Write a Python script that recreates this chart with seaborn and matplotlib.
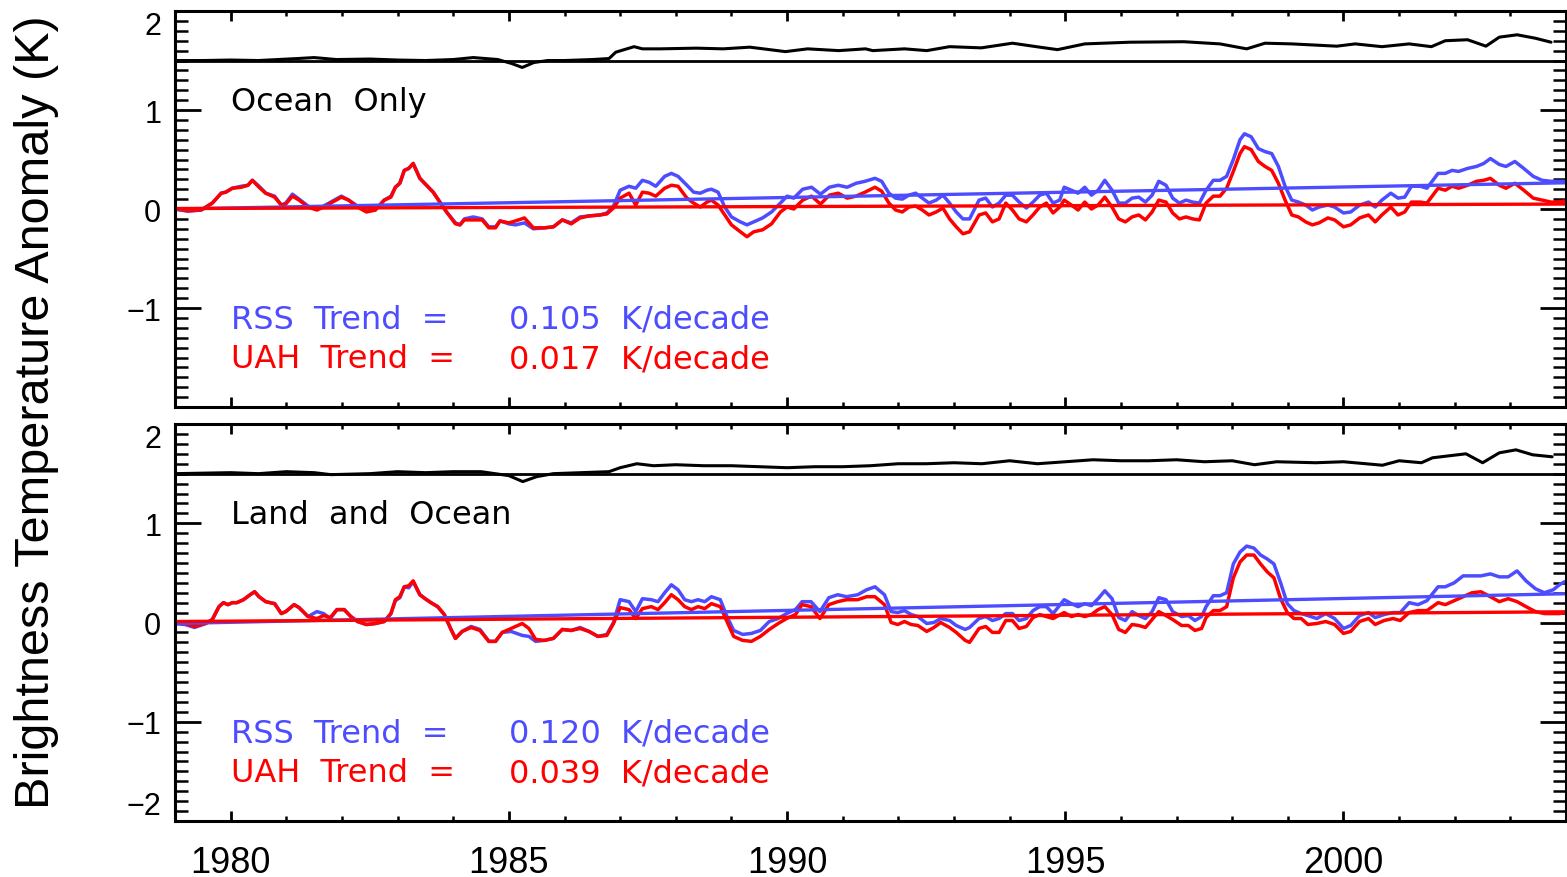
import matplotlib
matplotlib.use("Agg")
import numpy as np
import seaborn as sns
from matplotlib import pyplot as plt
from matplotlib.ticker import MultipleLocator

sns.set_style("ticks")
plt.rcParams['font.family'] = ['Liberation Sans', 'DejaVu Sans']
plt.rcParams.update({"axes.edgecolor": "black", "xtick.color": "black",
                     "ytick.color": "black", "text.color": "black",
                     "axes.labelcolor": "black"})

RSS_BLUE = "#4d4dff"
UAH_RED = "#ff0000"
DIFF_OFFSET = 1.5   # the RSS-UAH difference is drawn shifted up to this level

#%%
# ---- Ocean Only panel ----
ocean_years = [
    1979.00, 1979.23, 1979.47, 1979.67, 1979.83, 1979.91, 1980.03, 1980.19, 1980.31, 1980.39,
    1980.51, 1980.63, 1980.79, 1980.91, 1980.99, 1981.11, 1981.23, 1981.39, 1981.55, 1981.67,
    1981.83, 1981.99, 1982.12, 1982.28, 1982.44, 1982.60, 1982.76, 1982.88, 1982.96, 1983.04,
    1983.12, 1983.20, 1983.28, 1983.40, 1983.52, 1983.64, 1983.76, 1983.88, 1984.04, 1984.12,
    1984.20, 1984.36, 1984.52, 1984.64, 1984.76, 1984.84, 1985.00, 1985.12, 1985.28, 1985.44,
    1985.64, 1985.80, 1985.96, 1986.12, 1986.28, 1986.44, 1986.64, 1986.76, 1986.88, 1987.00,
    1987.16, 1987.28, 1987.40, 1987.52, 1987.64, 1987.80, 1987.92, 1988.04, 1988.20, 1988.32,
    1988.44, 1988.56, 1988.64, 1988.76, 1988.88, 1989.00, 1989.16, 1989.28, 1989.40, 1989.56,
    1989.72, 1989.88, 1990.00, 1990.12, 1990.28, 1990.44, 1990.60, 1990.76, 1990.92, 1991.08,
    1991.24, 1991.40, 1991.58, 1991.70, 1991.83, 1991.95, 1992.07, 1992.19, 1992.31, 1992.43,
    1992.55, 1992.68, 1992.80, 1992.92, 1993.04, 1993.16, 1993.28, 1993.45, 1993.57, 1993.69,
    1993.81, 1993.93, 1994.05, 1994.17, 1994.30, 1994.42, 1994.54, 1994.66, 1994.78, 1994.90,
    1994.98, 1995.11, 1995.23, 1995.35, 1995.47, 1995.59, 1995.71, 1995.84, 1995.96, 1996.08,
    1996.20, 1996.32, 1996.44, 1996.56, 1996.68, 1996.81, 1996.93, 1997.05, 1997.17, 1997.29,
    1997.41, 1997.53, 1997.66, 1997.78, 1997.90, 1998.02, 1998.14, 1998.22, 1998.34, 1998.47,
    1998.59, 1998.71, 1998.83, 1998.95, 1999.07, 1999.19, 1999.32, 1999.44, 1999.56, 1999.72,
    1999.84, 2000.00, 2000.13, 2000.29, 2000.45, 2000.57, 2000.69, 2000.85, 2000.98, 2001.10,
    2001.22, 2001.38, 2001.50, 2001.70, 2001.83, 2001.95, 2002.07, 2002.23, 2002.39, 2002.52,
    2002.64, 2002.80, 2002.92, 2003.08, 2003.24, 2003.41, 2003.57, 2003.73, 2003.85, 2003.97,
]
ocean_rss = [
    0.00, -0.02, -0.01, 0.06, 0.16, 0.17, 0.21, 0.23, 0.24, 0.29,
    0.23, 0.16, 0.13, 0.04, 0.06, 0.15, 0.10, 0.03, 0.00, 0.03,
    0.08, 0.13, 0.09, 0.03, -0.02, -0.01, 0.09, 0.13, 0.22, 0.26,
    0.39, 0.41, 0.46, 0.31, 0.24, 0.17, 0.07, -0.03, -0.14, -0.16,
    -0.10, -0.08, -0.10, -0.18, -0.18, -0.12, -0.15, -0.16, -0.14, -0.20,
    -0.19, -0.18, -0.11, -0.14, -0.08, -0.07, -0.06, -0.04, 0.03, 0.19,
    0.23, 0.21, 0.29, 0.27, 0.23, 0.33, 0.36, 0.33, 0.24, 0.17,
    0.16, 0.19, 0.20, 0.17, 0.02, -0.08, -0.13, -0.16, -0.13, -0.09,
    -0.03, 0.06, 0.13, 0.11, 0.20, 0.22, 0.15, 0.22, 0.24, 0.22,
    0.26, 0.28, 0.31, 0.28, 0.16, 0.11, 0.10, 0.14, 0.16, 0.11,
    0.06, 0.09, 0.14, 0.06, -0.03, -0.10, -0.10, 0.09, 0.11, 0.02,
    0.06, 0.14, 0.14, 0.07, 0.01, 0.07, 0.14, 0.16, 0.06, 0.09,
    0.22, 0.19, 0.16, 0.22, 0.14, 0.19, 0.29, 0.19, 0.06, 0.06,
    0.11, 0.12, 0.07, 0.14, 0.28, 0.24, 0.11, 0.06, 0.09, 0.07,
    0.06, 0.19, 0.29, 0.29, 0.33, 0.50, 0.70, 0.76, 0.73, 0.61,
    0.58, 0.56, 0.43, 0.23, 0.09, 0.07, 0.04, -0.01, 0.02, 0.04,
    0.02, -0.04, -0.03, 0.04, 0.07, 0.02, 0.09, 0.16, 0.11, 0.12,
    0.23, 0.23, 0.21, 0.36, 0.36, 0.39, 0.38, 0.41, 0.43, 0.46,
    0.51, 0.45, 0.43, 0.48, 0.41, 0.33, 0.29, 0.28, 0.28, 0.28,
]
ocean_uah = [
    0.00, -0.02, -0.01, 0.06, 0.16, 0.17, 0.21, 0.22, 0.24, 0.29,
    0.22, 0.16, 0.12, 0.04, 0.05, 0.13, 0.09, 0.02, -0.01, 0.02,
    0.07, 0.12, 0.09, 0.02, -0.03, -0.01, 0.09, 0.12, 0.22, 0.26,
    0.39, 0.41, 0.46, 0.31, 0.24, 0.17, 0.07, -0.03, -0.15, -0.16,
    -0.11, -0.11, -0.11, -0.19, -0.19, -0.12, -0.14, -0.12, -0.09, -0.19,
    -0.19, -0.18, -0.11, -0.15, -0.09, -0.07, -0.06, -0.05, 0.01, 0.11,
    0.16, 0.04, 0.17, 0.16, 0.13, 0.21, 0.24, 0.23, 0.11, 0.06,
    0.02, 0.07, 0.09, 0.04, -0.06, -0.16, -0.23, -0.28, -0.23, -0.21,
    -0.15, -0.03, 0.02, 0.00, 0.09, 0.13, 0.05, 0.14, 0.16, 0.11,
    0.13, 0.17, 0.22, 0.18, 0.06, -0.01, -0.03, 0.02, 0.03, -0.01,
    -0.06, -0.03, 0.01, -0.10, -0.18, -0.25, -0.23, -0.06, -0.04, -0.13,
    -0.10, 0.06, -0.01, -0.10, -0.13, -0.06, 0.02, 0.06, -0.04, 0.02,
    0.09, 0.04, -0.01, 0.07, 0.00, 0.04, 0.12, 0.02, -0.10, -0.13,
    -0.08, -0.06, -0.11, -0.03, 0.09, 0.07, -0.04, -0.10, -0.08, -0.10,
    -0.11, 0.06, 0.13, 0.13, 0.21, 0.38, 0.56, 0.63, 0.60, 0.48,
    0.43, 0.39, 0.26, 0.09, -0.06, -0.08, -0.13, -0.16, -0.14, -0.09,
    -0.11, -0.18, -0.16, -0.09, -0.06, -0.13, -0.06, 0.02, -0.06, -0.03,
    0.07, 0.07, 0.06, 0.21, 0.19, 0.23, 0.21, 0.24, 0.28, 0.29,
    0.31, 0.24, 0.21, 0.26, 0.19, 0.11, 0.09, 0.07, 0.07, 0.08,
]
ocean_diff_years = [
    1979.0, 1979.5, 1980.0, 1980.5, 1981.2, 1981.5, 1981.9, 1982.5, 1983.0, 1983.5,
    1984.0, 1984.36, 1984.8, 1985.05, 1985.24, 1985.45, 1985.7, 1986.0, 1986.5, 1986.8,
    1986.92, 1987.25, 1987.40, 1987.72, 1988.37, 1988.85, 1989.33, 1989.97, 1990.37, 1990.93,
    1991.41, 1991.54, 1992.11, 1992.51, 1992.92, 1993.49, 1994.05, 1994.54, 1994.86, 1995.35,
    1996.16, 1997.13, 1997.78, 1998.26, 1998.59, 1999.07, 1999.88, 2000.21, 2000.69, 2001.18,
    2001.58, 2001.83, 2002.23, 2002.56, 2002.80, 2003.12, 2003.45, 2003.73,
]
ocean_diff = [
    0.0, 0.0, 0.005, 0.0, 0.02, 0.03, 0.01, 0.015, 0.005, 0.0,
    0.01, 0.03, 0.01, -0.03, -0.07, -0.02, 0.0, 0.0, 0.01, 0.02,
    0.084, 0.14, 0.118, 0.118, 0.125, 0.118, 0.135, 0.09, 0.118, 0.10,
    0.118, 0.10, 0.118, 0.10, 0.14, 0.128, 0.175, 0.135, 0.11, 0.168,
    0.185, 0.19, 0.168, 0.118, 0.175, 0.168, 0.145, 0.168, 0.14, 0.168,
    0.14, 0.20, 0.21, 0.145, 0.236, 0.26, 0.225, 0.185,
]

#%%
# ---- Land and Ocean panel ----
land_years = [
    1979.00, 1979.18, 1979.35, 1979.55, 1979.67, 1979.79, 1979.87, 1979.95, 1980.03, 1980.11,
    1980.23, 1980.35, 1980.43, 1980.51, 1980.63, 1980.79, 1980.91, 1980.99, 1981.14, 1981.23,
    1981.39, 1981.55, 1981.67, 1981.79, 1981.91, 1982.04, 1982.16, 1982.28, 1982.44, 1982.60,
    1982.76, 1982.88, 1982.96, 1983.04, 1983.12, 1983.20, 1983.28, 1983.40, 1983.52, 1983.60,
    1983.72, 1983.84, 1983.96, 1984.04, 1984.16, 1984.32, 1984.48, 1984.64, 1984.76, 1984.88,
    1985.04, 1985.24, 1985.36, 1985.48, 1985.64, 1985.80, 1985.96, 1986.12, 1986.28, 1986.44,
    1986.60, 1986.76, 1986.88, 1987.00, 1987.16, 1987.28, 1987.40, 1987.56, 1987.68, 1987.80,
    1987.92, 1988.04, 1988.16, 1988.28, 1988.40, 1988.52, 1988.64, 1988.80, 1988.92, 1989.04,
    1989.20, 1989.36, 1989.52, 1989.68, 1989.84, 1989.99, 1990.15, 1990.27, 1990.43, 1990.59,
    1990.75, 1990.91, 1991.07, 1991.27, 1991.43, 1991.58, 1991.75, 1991.87, 1991.99, 1992.11,
    1992.23, 1992.35, 1992.51, 1992.64, 1992.76, 1992.92, 1993.04, 1993.20, 1993.28, 1993.45,
    1993.57, 1993.69, 1993.81, 1993.93, 1994.05, 1994.17, 1994.30, 1994.42, 1994.54, 1994.66,
    1994.78, 1994.98, 1995.11, 1995.23, 1995.35, 1995.47, 1995.59, 1995.71, 1995.84, 1995.96,
    1996.08, 1996.20, 1996.32, 1996.44, 1996.56, 1996.68, 1996.81, 1996.93, 1997.09, 1997.21,
    1997.33, 1997.45, 1997.53, 1997.66, 1997.78, 1997.90, 1998.02, 1998.14, 1998.26, 1998.39,
    1998.51, 1998.63, 1998.75, 1998.87, 1998.99, 1999.11, 1999.24, 1999.36, 1999.52, 1999.68,
    1999.84, 2000.00, 2000.13, 2000.29, 2000.45, 2000.57, 2000.73, 2000.89, 2001.02, 2001.18,
    2001.34, 2001.50, 2001.70, 2001.83, 2001.99, 2002.15, 2002.31, 2002.47, 2002.64, 2002.80,
    2002.96, 2003.12, 2003.28, 2003.45, 2003.61, 2003.77, 2003.88, 2003.97,
]
land_rss = [
    -0.01, -0.02, -0.05, -0.01, 0.03, 0.16, 0.20, 0.18, 0.20, 0.20,
    0.23, 0.28, 0.31, 0.26, 0.21, 0.19, 0.09, 0.11, 0.18, 0.15,
    0.06, 0.11, 0.09, 0.04, 0.13, 0.13, 0.06, 0.01, -0.02, -0.01,
    0.01, 0.09, 0.22, 0.25, 0.36, 0.35, 0.41, 0.28, 0.23, 0.20,
    0.16, 0.08, -0.07, -0.16, -0.09, -0.04, -0.07, -0.19, -0.19, -0.10,
    -0.09, -0.13, -0.14, -0.19, -0.18, -0.16, -0.07, -0.08, -0.05, -0.09,
    -0.14, -0.12, 0.00, 0.23, 0.21, 0.11, 0.24, 0.23, 0.21, 0.30,
    0.38, 0.33, 0.23, 0.21, 0.23, 0.21, 0.26, 0.23, 0.06, -0.08,
    -0.12, -0.11, -0.08, 0.01, 0.04, 0.09, 0.13, 0.21, 0.21, 0.11,
    0.25, 0.28, 0.26, 0.28, 0.33, 0.36, 0.28, 0.11, 0.10, 0.12,
    0.08, 0.06, -0.01, 0.00, 0.04, 0.02, -0.03, -0.07, -0.05, 0.04,
    0.06, 0.02, 0.04, 0.09, 0.09, 0.02, 0.04, 0.12, 0.16, 0.16,
    0.09, 0.23, 0.19, 0.16, 0.19, 0.17, 0.24, 0.32, 0.24, 0.05,
    0.02, 0.11, 0.07, 0.04, 0.11, 0.25, 0.23, 0.11, 0.06, 0.07,
    0.02, 0.06, 0.16, 0.27, 0.27, 0.30, 0.59, 0.71, 0.77, 0.75,
    0.68, 0.64, 0.59, 0.40, 0.19, 0.12, 0.09, 0.07, 0.04, 0.09,
    0.04, -0.06, -0.03, 0.07, 0.10, 0.05, 0.08, 0.10, 0.10, 0.20,
    0.18, 0.22, 0.36, 0.36, 0.40, 0.47, 0.47, 0.47, 0.49, 0.46,
    0.46, 0.52, 0.42, 0.34, 0.30, 0.33, 0.38, 0.41,
]
land_uah = [
    -0.01, -0.01, -0.04, -0.01, 0.03, 0.16, 0.20, 0.18, 0.20, 0.20,
    0.23, 0.28, 0.31, 0.26, 0.21, 0.19, 0.09, 0.11, 0.18, 0.15,
    0.06, 0.04, 0.07, 0.05, 0.13, 0.13, 0.06, 0.01, -0.02, -0.01,
    0.01, 0.09, 0.23, 0.26, 0.36, 0.37, 0.42, 0.28, 0.23, 0.20,
    0.16, 0.08, -0.07, -0.16, -0.09, -0.05, -0.08, -0.19, -0.19, -0.10,
    -0.06, -0.01, -0.06, -0.17, -0.18, -0.16, -0.07, -0.08, -0.06, -0.09,
    -0.14, -0.13, -0.01, 0.15, 0.13, 0.04, 0.14, 0.16, 0.13, 0.20,
    0.28, 0.23, 0.16, 0.13, 0.16, 0.14, 0.19, 0.16, 0.01, -0.14,
    -0.18, -0.19, -0.14, -0.07, -0.01, 0.04, 0.08, 0.18, 0.16, 0.04,
    0.18, 0.21, 0.23, 0.23, 0.26, 0.26, 0.18, 0.00, -0.02, 0.01,
    -0.02, -0.03, -0.09, -0.05, 0.00, -0.05, -0.10, -0.18, -0.20, -0.06,
    -0.04, -0.10, -0.10, 0.02, 0.02, -0.06, -0.04, 0.05, 0.08, 0.06,
    0.04, 0.10, 0.06, 0.08, 0.06, 0.08, 0.13, 0.16, 0.08, -0.07,
    -0.10, -0.02, -0.03, -0.05, 0.03, 0.11, 0.07, 0.03, -0.03, -0.03,
    -0.08, -0.06, 0.05, 0.12, 0.12, 0.16, 0.45, 0.61, 0.68, 0.68,
    0.59, 0.51, 0.45, 0.24, 0.10, 0.04, 0.04, -0.02, -0.01, 0.01,
    -0.02, -0.11, -0.09, 0.01, 0.04, -0.02, 0.02, 0.04, 0.02, 0.10,
    0.12, 0.12, 0.20, 0.18, 0.22, 0.26, 0.30, 0.31, 0.26, 0.21,
    0.24, 0.21, 0.16, 0.11, 0.09, 0.09, 0.09, 0.10,
]
land_diff_years = [
    1979.0, 1980.0, 1980.5, 1981.0, 1981.5, 1981.8, 1982.5, 1983.0, 1983.5, 1984.0,
    1984.5, 1985.0, 1985.25, 1985.5, 1985.8, 1986.3, 1986.8, 1987.0, 1987.3, 1987.6,
    1988.0, 1988.5, 1989.0, 1989.5, 1990.0, 1990.5, 1991.0, 1991.5, 1992.0, 1992.5,
    1993.0, 1993.5, 1994.0, 1994.5, 1995.0, 1995.5, 1996.0, 1996.5, 1997.0, 1997.5,
    1998.0, 1998.4, 1998.8, 1999.5, 2000.0, 2000.7, 2001.0, 2001.4, 2001.6, 2002.2,
    2002.5, 2002.8, 2003.1, 2003.4, 2003.75,
]
land_diff = [
    0.0, 0.01, 0.0, 0.02, 0.01, -0.01, 0.0, 0.02, 0.01, 0.02,
    0.02, -0.02, -0.08, -0.03, 0.0, 0.01, 0.02, 0.06, 0.10, 0.08,
    0.09, 0.08, 0.08, 0.07, 0.06, 0.07, 0.07, 0.08, 0.10, 0.10,
    0.11, 0.10, 0.13, 0.10, 0.12, 0.14, 0.13, 0.13, 0.14, 0.12,
    0.13, 0.09, 0.12, 0.11, 0.12, 0.085, 0.13, 0.11, 0.16, 0.20,
    0.11, 0.21, 0.24, 0.19, 0.17,
]

#%%
# straight trend lines (end points)
trend_years = [1979.0, 2004.0]
ocean_rss_trend = [0.00, 0.265]
ocean_uah_trend = [0.005, 0.05]
land_rss_trend = [-0.01, 0.29]
land_uah_trend = [0.01, 0.108]

panel_names = ["Ocean  Only", "Land  and  Ocean"]
rss_trend_vals = ["0.105", "0.120"]
uah_trend_vals = ["0.017", "0.039"]
xtick_labels = ["1980", "1985", "1990", "1995", "2000"]

#%%
fig = plt.figure(figsize=(15.67, 8.78), dpi=100)
ax_top = fig.add_axes([0.1117, 0.5353, 0.8877, 0.4510])
ax_bot = fig.add_axes([0.1117, 0.0638, 0.8877, 0.4521])

panels = [
    (ax_top, ocean_years, ocean_rss, ocean_uah, ocean_diff_years, ocean_diff,
     ocean_rss_trend, ocean_uah_trend),
    (ax_bot, land_years, land_rss, land_uah, land_diff_years, land_diff,
     land_rss_trend, land_uah_trend),
]

for i, (ax, yrs, rss, uah, dyrs, dif, rss_tr, uah_tr) in enumerate(panels):
    sns.lineplot(x=yrs, y=rss, color=RSS_BLUE, lw=2.5, estimator=None, ax=ax)
    sns.lineplot(x=yrs, y=uah, color=UAH_RED, lw=2.5, estimator=None, ax=ax)
    sns.lineplot(x=trend_years, y=rss_tr, color=RSS_BLUE, lw=2.4, estimator=None, ax=ax)
    sns.lineplot(x=trend_years, y=uah_tr, color=UAH_RED, lw=2.4, estimator=None, ax=ax)
    sns.lineplot(x=dyrs, y=np.array(dif) + DIFF_OFFSET, color="black", lw=2.2,
                 estimator=None, ax=ax)
    ax.axhline(DIFF_OFFSET, color="black", lw=2.0)

    ax.set_xlim(1979, 2004)
    ax.set_ylim(-2, 2)
    ax.set(xlabel=None, ylabel=None)
    ax.xaxis.set_major_locator(MultipleLocator(5))
    ax.xaxis.set_minor_locator(MultipleLocator(1))
    ax.set_yticks([-2, -1, 0, 1, 2])
    ax.yaxis.set_minor_locator(MultipleLocator(0.1))
    ax.tick_params(which="both", direction="in", top=True, right=True, width=2.0,
                   color="black")
    ax.tick_params(axis="y", which="major", length=19, labelsize=22, pad=10)
    ax.tick_params(axis="y", which="minor", length=9.5, width=1.8)
    ax.tick_params(axis="x", which="major", length=7, labelsize=26, pad=17)
    ax.tick_params(axis="x", which="minor", length=3.6, width=1.8)
    for sp in ax.spines.values():
        sp.set_linewidth(2.2)
        sp.set_color("black")

    # labels in the plot
    tfont = dict(fontsize=23, family="DejaVu Sans", va="baseline", ha="left")
    ax.text(1980.0, 1.0, panel_names[i], color="black", **tfont)
    ax.text(1980.0, -1.2, "RSS  Trend  =", color=RSS_BLUE, **tfont)
    ax.text(1985.0, -1.2, rss_trend_vals[i] + "  K/decade", color=RSS_BLUE, **tfont)
    ax.text(1980.0, -1.6, "UAH  Trend  =", color=UAH_RED, **tfont)
    ax.text(1985.0, -1.6, uah_trend_vals[i] + "  K/decade", color=UAH_RED, **tfont)

# y tick labels: the top panel has no -2 label; end labels sit inside the frame
ax_top.set_yticklabels(["", "\u22121", "0", "1", "2"])
ax_bot.set_yticklabels(["\u22122", "\u22121", "0", "1", "2"])
ax_top.get_yticklabels()[-1].set_va("top")
ax_bot.get_yticklabels()[-1].set_va("top")
ax_bot.get_yticklabels()[0].set_va("bottom")

ax_top.tick_params(axis="x", labelbottom=False)
ax_bot.set_xticks([1980, 1985, 1990, 1995, 2000])
ax_bot.set_xticklabels(xtick_labels)

fig.text(0.023, 0.53, "Brightness Temperature Anomaly (K)", rotation=90,
         fontsize=35, ha="center", va="center")

plt.savefig("out.png", dpi=100)
